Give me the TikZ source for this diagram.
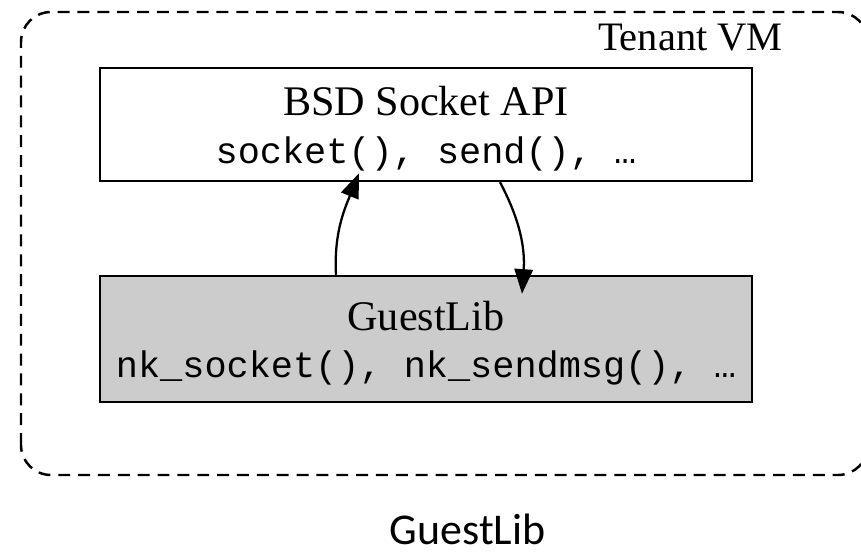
\documentclass[tikz,border=0pt]{standalone}
\usepackage{fontspec}
\setmainfont{Liberation Serif}
\setmonofont{Liberation Mono}
\newfontfamily\captionfont{Carlito}
\usetikzlibrary{arrows.meta}
\definecolor{libgray}{RGB}{204,204,204}
\begin{document}
\begin{tikzpicture}[
		layer/.style={draw, line width=1.4pt, minimum width=13.04cm, inner sep=0pt},
		title/.style={anchor=base, inner sep=0pt, font=\fontsize{24}{28}\selectfont},
		calls/.style={anchor=base, inner sep=0pt, font=\ttfamily\fontsize{21}{25}\selectfont},
		call/.style={line width=1.3pt, -{Triangle[length=14pt, width=10.5pt]}}
	]
		\useasboundingbox (0, 0) rectangle (17.22, 11.1);
		\clip (0, 0) rectangle (17.22, 11.1);
		
		\draw[line width=1.4pt, dash pattern=on 6.8pt off 4.5pt, rounded corners=0.6cm] (0.42, 1.6) rectangle (17.36, 10.86);
		\node[anchor=base east, inner sep=0pt, font=\fontsize{23}{27}\selectfont] (vmname) at (15.66, 10.1) {Tenant VM};
		
		\node[layer, minimum height=2.26cm] (bsd) at (8.52, 8.61) {};
		\node[title] (bsdname) at (8.52, 8.8) {BSD Socket API};
		\node[calls] (bsdcalls) at (8.52, 7.84) {socket(), send(), …};
		
		\node[layer, fill=libgray, minimum height=2.52cm] (guest) at (8.52, 4.32) {};
		\node[title] (guestname) at (8.52, 4.5) {GuestLib};
		\node[calls] (guestcalls) at (8.52, 3.56) {nk\_socket(), nk\_sendmsg(), …};
		
		\draw[call] ([xshift=-1.8cm]guest.north) to[out=93, in=-112] ([xshift=-1.34cm, yshift=0.18cm]bsd.south);
		\draw[call] ([xshift=1.48cm]bsd.south) to[out=-62, in=86] ([xshift=1.92cm, yshift=-0.38cm]guest.north);
		
		\node[anchor=base, inner sep=0pt, font=\captionfont\fontsize{25}{30}\selectfont] (caption) at (9.35, 0.22) {GuestLib};
	\end{tikzpicture}
\end{document}
